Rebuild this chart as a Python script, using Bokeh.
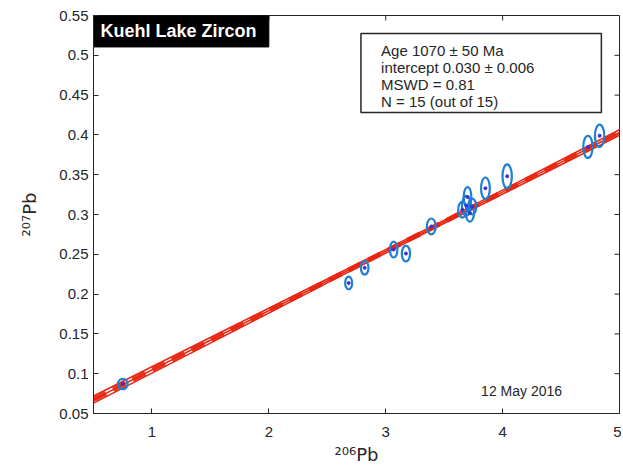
from bokeh.plotting import figure
from bokeh.models import Label, FixedTicker, Range1d, ColumnDataSource
from bokeh.embed import file_html
from bokeh.resources import INLINE

# ---- data ----
pb206 = [0.75, 2.683, 2.82, 3.068, 3.173, 3.39, 3.655, 3.69, 3.70, 3.72, 3.74, 3.853, 4.039, 4.73, 4.83]
pb207 = [0.087, 0.214, 0.233, 0.256, 0.251, 0.285, 0.306, 0.311, 0.322, 0.302, 0.310, 0.333, 0.348, 0.385, 0.399]
err_x = [0.085, 0.06, 0.065, 0.065, 0.07, 0.075, 0.07, 0.075, 0.065, 0.07, 0.07, 0.075, 0.08, 0.08, 0.08]
err_y = [0.013, 0.016, 0.017, 0.02, 0.02, 0.02, 0.02, 0.025, 0.025, 0.022, 0.02, 0.027, 0.03, 0.028, 0.028]

fit_x = [0.5, 1.5, 2.5, 3.5, 4.5, 5.0]
fit_y = [0.0675, 0.142, 0.2165, 0.291, 0.3655, 0.403]
fit_hw = [0.0045, 0.0035, 0.0025, 0.002, 0.003, 0.0035]

xticks = [1, 2, 3, 4, 5]
yticks = [0.05, 0.1, 0.15, 0.2, 0.25, 0.3, 0.35, 0.4, 0.45, 0.5, 0.55]
ytick_labels = ["0.05", "0.1", "0.15", "0.2", "0.25", "0.3", "0.35", "0.4", "0.45", "0.5", "0.55"]

x_label = "\u00b2\u2070\u2076Pb"
y_label = "\u00b2\u2070\u2077Pb"
title_text = "Kuehl Lake Zircon"
stats_lines = ["Age 1070 \u00b1 50 Ma", "intercept 0.030 \u00b1 0.006", "MSWD = 0.81", "N = 15 (out of 15)"]
date_text = "12 May 2016"

FONT = "Liberation Sans"
LFONT = "DejaVu Sans"
TXT = "#262626"
RED = "#e8230f"
BLUE = "#1f7fd2"

X0, X1, Y0, Y1 = 0.5, 5.0, 0.05, 0.55
W, H = 621, 469
ML, MT, MR, MB = 93, 15, 2, 56

p = figure(width=W, height=H, output_backend="svg", toolbar_location=None,
           x_range=Range1d(X0, X1), y_range=Range1d(Y0, Y1),
           min_border_left=ML, min_border_top=MT, min_border_right=MR, min_border_bottom=MB)
p.grid.visible = False
p.outline_line_color = TXT
p.background_fill_color = "white"

for ax in (p.xaxis[0], p.yaxis[0]):
    ax.major_tick_in = 5
    ax.major_tick_out = 0
    ax.minor_tick_in = 0
    ax.minor_tick_out = 0
    ax.axis_line_color = TXT
    ax.major_tick_line_color = TXT
    ax.major_label_text_font = FONT
    ax.major_label_text_font_size = "15px"
    ax.major_label_text_color = TXT
    ax.axis_label_text_font = LFONT
    ax.axis_label_text_font_size = "18px"
    ax.axis_label_text_font_style = "normal"
    ax.axis_label_text_color = TXT
p.xaxis[0].ticker = FixedTicker(ticks=xticks)
p.yaxis[0].ticker = FixedTicker(ticks=yticks)
p.yaxis[0].major_label_overrides = {t: l for t, l in zip(yticks, ytick_labels)}
p.xaxis[0].major_label_standoff = 13
p.yaxis[0].major_label_standoff = 5
p.xaxis[0].axis_label = x_label
p.yaxis[0].axis_label = y_label
p.xaxis[0].axis_label_standoff = 4
p.yaxis[0].axis_label_standoff = 16

# inward ticks on the top and right edges (box on)
fw = W - ML - MR
fh = H - MT - MB
tx = 5 * (X1 - X0) / fw
ty = 5 * (Y1 - Y0) / fh
p.segment(x0=xticks, x1=xticks, y0=[Y1] * len(xticks), y1=[Y1 - ty] * len(xticks),
          line_color=TXT, line_width=1)
p.segment(x0=[X1] * len(yticks), x1=[X1 - tx] * len(yticks), y0=yticks, y1=yticks,
          line_color=TXT, line_width=1)

# regression line with envelope
up = [y + h for y, h in zip(fit_y, fit_hw)]
lo = [y - h for y, h in zip(fit_y, fit_hw)]
p.line(fit_x, fit_y, line_color=RED, line_width=5, line_dash="14 8", line_alpha=0.9)
p.line(fit_x, fit_y, line_color=RED, line_width=1.5)
p.line(fit_x, up, line_color=RED, line_width=1.5)
p.line(fit_x, lo, line_color=RED, line_width=1.5)

# error ellipses
src = ColumnDataSource(dict(x=pb206, y=pb207, w=err_x, h=err_y))
p.ellipse(x="x", y="y", width="w", height="h", source=src, fill_color=None,
          line_color=BLUE, line_width=2.2)
p.scatter(x="x", y="y", source=src, size=3, color="#3a2fd8")

# title box
p.quad(left=[0.49], right=[2.0], bottom=[0.5105], top=[0.55], fill_color="black", line_color="black")
p.add_layout(Label(x=0.56, y=0.5305, text=title_text, text_color="white", text_font=FONT,
                   text_font_size="18px", text_font_style="bold", text_baseline="middle"))

# stats box
p.quad(left=[2.788], right=[4.845], bottom=[0.4282], top=[0.5274], fill_color="white",
       line_color=TXT, line_width=1.5)
for i, s in enumerate(stats_lines):
    p.add_layout(Label(x=2.96, y=0.506 - i * 0.02135, text=s, text_color=TXT, text_font=FONT,
                       text_font_size="15px", text_baseline="middle"))

p.add_layout(Label(x=3.816, y=0.0777, text=date_text, text_color=TXT, text_font=FONT,
                   text_font_size="14px", text_baseline="middle"))

open("out.html", "w").write(file_html(p, INLINE))
